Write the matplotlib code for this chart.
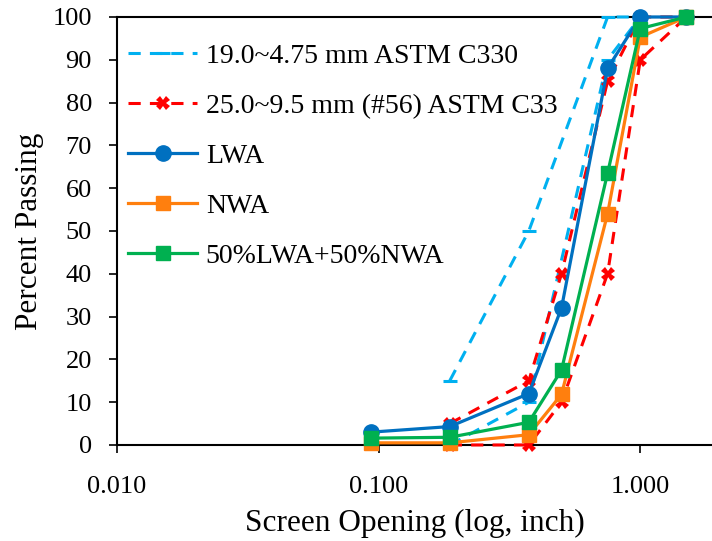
import matplotlib.pyplot as plt
from matplotlib.ticker import FixedLocator, FuncFormatter, NullLocator

plt.rcParams['font.family'] = ['Liberation Serif', 'DejaVu Serif']

# sieve openings in inch
sieves = [0.0937, 0.187, 0.375, 0.5, 0.75, 1.0, 1.5]
lwa = [3.0, 4.3, 12.0, 32.0, 88.0, 100.0, 100.0]
nwa = [0.5, 0.5, 2.4, 11.8, 54.0, 95.3, 100.0]
blend = [1.6, 1.8, 5.3, 17.5, 63.5, 97.3, 100.0]

# ASTM C330 band, 19.0~4.75 mm
c330_sizes = [0.187, 0.375, 0.75, 1.0]
c330_upper = [15, 50, 100, 100]
c330_lower = [0, 10, 90, 100]

# ASTM C33 band, size #56
c33_sizes = [0.187, 0.375, 0.5, 0.75, 1.0, 1.5]
c33_upper = [5, 15, 40, 85, 100, 100]
c33_lower = [0, 0, 10, 40, 90, 100]

labels = ['19.0~4.75 mm ASTM C330', '25.0~9.5 mm (#56) ASTM C33',
          'LWA', 'NWA', '50%LWA+50%NWA']

fig = plt.figure(figsize=(7.12, 5.41), dpi=100)
ax = fig.add_axes([0.1643, 0.1775, 0.8357, 0.7911])

lb = '#00B0F0'
red = '#FF0000'
ax.plot(c330_sizes, c330_upper, color=lb, lw=2.2, ls=(0, (4, 3)),
        marker='_', ms=10, mew=2.2, label=labels[0], clip_on=False, zorder=3)
ax.plot(c330_sizes, c330_lower, color=lb, lw=2.2, ls=(0, (4, 3)),
        marker='_', ms=10, mew=2.2, clip_on=False, zorder=3)
ax.plot(c33_sizes, c33_upper, color=red, lw=2.2, ls=(0, (4, 3)),
        marker='X', ms=10, mew=0, label=labels[1], clip_on=False, zorder=3)
ax.plot(c33_sizes, c33_lower, color=red, lw=2.2, ls=(0, (4, 3)),
        marker='X', ms=10, mew=0, clip_on=False, zorder=3)

ax.plot(sieves, lwa, color='#0070C0', lw=2.3, marker='o', ms=11,
        label=labels[2], clip_on=False, zorder=4)
ax.plot(sieves, nwa, color='#FF7F0E', lw=2.3, marker='s', ms=10,
        label=labels[3], clip_on=False, zorder=4)
ax.plot(sieves, blend, color='#00B050', lw=2.3, marker='s', ms=10,
        label=labels[4], clip_on=False, zorder=5)

ax.set_xscale('log')
ax.set_xlim(0.01, 1.88)
ax.set_ylim(0, 100)
ax.xaxis.set_major_locator(FixedLocator([0.01, 0.1, 1.0]))
ax.xaxis.set_minor_locator(NullLocator())
ax.xaxis.set_major_formatter(FuncFormatter(lambda v, p: '%.3f' % v))
ax.set_yticks(range(0, 101, 10))

ax.spines['right'].set_visible(False)
for s in ['left', 'bottom', 'top']:
    ax.spines[s].set_linewidth(1.5)
ax.tick_params(axis='both', labelsize=19, width=1.2, length=6, direction='out')
ax.tick_params(axis='x', pad=16)
ax.tick_params(axis='y', pad=12)

ax.set_xlabel('Screen Opening (log, inch)', fontsize=22.5, labelpad=8)
ax.set_ylabel('Percent Passing', fontsize=22.5, labelpad=6)

ax.legend(loc='upper left', bbox_to_anchor=(0.0185, 0.938), frameon=False,
          fontsize=20, handlelength=2.5, labelspacing=0.88, borderaxespad=0,
          borderpad=0, handletextpad=0.3)

fig.savefig('out.png', dpi=100)
